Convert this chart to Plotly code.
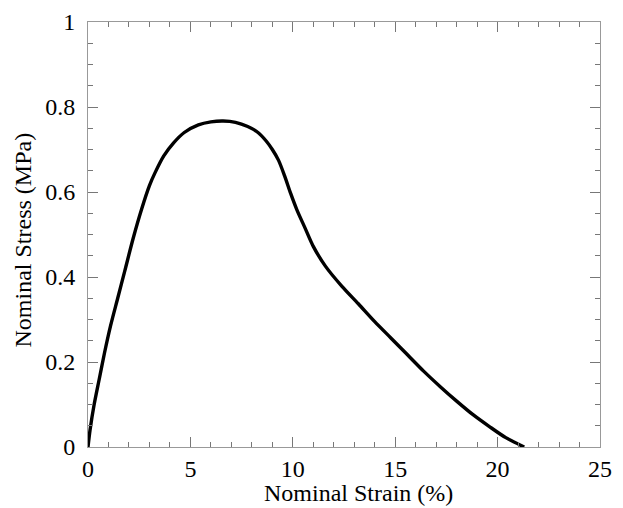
import plotly.graph_objects as go

strain = [0.0, 0.1, 0.3, 0.55, 0.8, 1.1, 1.45, 1.8, 2.2, 2.62, 3.0, 3.27, 3.7, 4.17, 4.7, 5.39,
          6.0, 6.6, 7.2, 7.8, 8.3, 8.7, 9.0, 9.3, 9.6, 9.9, 10.2, 10.6, 11.0, 11.6, 12.4,
          13.2, 14.0, 14.8, 15.6, 16.4, 17.2, 18.0, 18.8, 19.6, 20.4, 21.3]
stress = [0.0, 0.04, 0.1, 0.16, 0.22, 0.285, 0.35, 0.415, 0.49, 0.56, 0.615, 0.645, 0.685, 0.715, 0.74, 0.758,
          0.765, 0.767, 0.764, 0.754, 0.74, 0.72, 0.70, 0.675, 0.638, 0.596, 0.558, 0.515, 0.472, 0.425, 0.378,
          0.337, 0.295, 0.256, 0.217, 0.178, 0.142, 0.108, 0.076, 0.048, 0.022, 0.0]

x_ticks = [0, 5, 10, 15, 20, 25]
y_ticks = [0, 0.2, 0.4, 0.6, 0.8, 1]
y_tick_labels = ["0", "0.2", "0.4", "0.6", "0.8", "1"]
x_title = "Nominal Strain (%)"
y_title = "Nominal Stress (MPa)"

fig = go.Figure()
fig.add_trace(go.Scatter(x=strain, y=stress, mode="lines",
                         line=dict(color="black", width=3.4, shape="spline", smoothing=0.8),
                         showlegend=False, hoverinfo="skip"))

font = dict(family="Liberation Serif, Times New Roman, serif", size=24, color="black")
axis_common = dict(showgrid=False, zeroline=False, showline=True, linecolor="#999999", linewidth=1,
                   mirror="allticks", ticks="inside", ticklen=10, tickcolor="#777777", tickwidth=1,
                   tickfont=font, automargin=False)

fig.update_xaxes(range=[0, 25], tickvals=x_ticks, ticktext=[str(v) for v in x_ticks],
                 ticklabelstandoff=0,
                 minor=dict(dtick=1, ticks="inside", ticklen=5, tickcolor="#777777", showgrid=False),
                 **axis_common)
fig.update_yaxes(range=[0, 1], tickvals=y_ticks, ticktext=y_tick_labels,
                 ticklabelstandoff=7,
                 minor=dict(dtick=0.05, ticks="inside", ticklen=5, tickcolor="#777777", showgrid=False),
                 **axis_common)

W, H = 615, 500
L, R, T, B = 80, 23, 14, 61
fig.add_annotation(text=x_title, xref="paper", yref="paper", x=(350 - L) / (W - L - R), y=0,
                   xanchor="center", yanchor="middle", yshift=-46, showarrow=False, font=font)
fig.add_annotation(text=y_title, xref="paper", yref="paper", x=0, y=0.5,
                   xanchor="center", yanchor="middle", xshift=-(L - 14), yshift=-6,
                   textangle=-90, showarrow=False, font=font)

fig.update_layout(width=W, height=H, margin=dict(l=L, r=R, t=T, b=B),
                  plot_bgcolor="white", paper_bgcolor="white", font=font)

fig.write_html("out.html")
